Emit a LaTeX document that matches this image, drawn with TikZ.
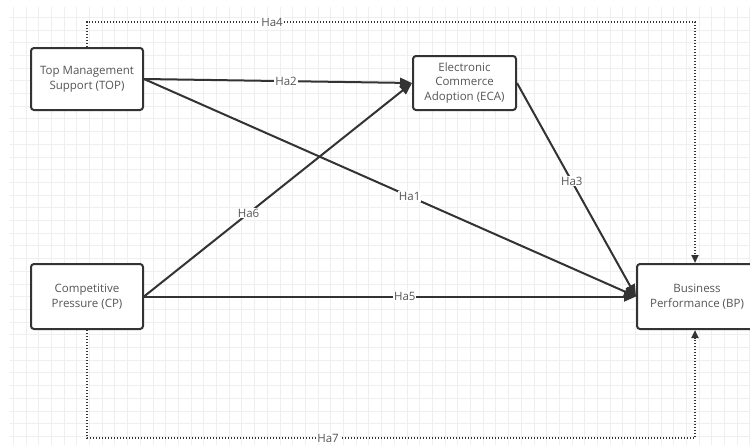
\documentclass[tikz,border=0pt]{standalone}
\usepackage{fontspec}
\setmainfont{Open Sans}
\usetikzlibrary{arrows.meta}
\definecolor{gridc}{HTML}{EFEFEF}
\definecolor{linec}{HTML}{333333}
\definecolor{textc}{HTML}{555555}
\begin{document}
\begin{tikzpicture}[x=1pt,y=-1pt,
  box/.style={draw=linec,line width=2pt,rounded corners=3pt,fill=white,
    text=textc,align=center,font=\fontsize{11.5}{14.7}\selectfont,inner sep=0pt},
  conn/.style={draw=linec,line width=2pt,-{Triangle[length=12pt,width=10pt]}},
  dotc/.style={draw=linec,line width=2pt,dash pattern=on 1.4pt off 1.6pt,
    -{Triangle[length=8pt,width=7pt]}},
  lab/.style={fill=white,text=textc,font=\fontsize{11.5}{13}\selectfont,inner sep=1pt}]
\useasboundingbox (0,0) rectangle (750,445);
\fill[white] (0,0) rectangle (750,445);
\begin{scope}
\clip (10,7) rectangle (750,445);
\foreach \i in {0,...,59} {
  \draw[gridc,line width=1pt] ({0.6+12.7*\i},7) -- ({0.6+12.7*\i},445);
}
\foreach \j in {0,...,35} {
  \draw[gridc,line width=1pt] (10,{4.6+12.7*\j}) -- (750,{4.6+12.7*\j});
}
\end{scope}
% nodes
\node[box,minimum width=112pt,minimum height=62pt] (top) at (87,79) {Top Management\\Support (TOP)};
\node[box,minimum width=103pt,minimum height=54pt] (eca) at (464.5,83) {Electronic\\Commerce\\Adoption (ECA)};
\node[box,minimum width=112pt,minimum height=65pt] (cp) at (87,296.5) {Competitive\\Pressure (CP)};
\node[box,minimum width=120pt,minimum height=65pt] (bp) at (697,296.5) {Business\\Performance (BP)};
% corner coordinates for dotted paths
\coordinate (c4a) at (87,22);
\coordinate (c4b) at (695,22);
\coordinate (c7a) at (87,438);
\coordinate (c7b) at (695,438);
% dotted connectors
\draw[dotc] (top.north) -- (c4a) -- (c4b) -- (bp.north -| c4b);
\draw[dotc] (cp.south) -- (c7a) -- (c7b) -- (bp.south -| c7b);
\node[lab] (l4) at (272,22) {Ha4};
\node[lab] (l7) at (328,438) {Ha7};
% solid connectors
\draw[conn] (top.east) -- node[lab,pos=0.53] {Ha2} (eca.west);
\draw[conn] (top.east) -- node[lab,pos=0.54] {Ha1} (bp.west);
\draw[conn] (eca.east) -- node[lab,pos=0.46] {Ha3} (bp.west);
\draw[conn] (cp.east) -- node[lab,pos=0.39] {Ha6} (eca.west);
\draw[conn] (cp.east) -- node[lab,pos=0.53] {Ha5} (bp.west);
\end{tikzpicture}
\end{document}
